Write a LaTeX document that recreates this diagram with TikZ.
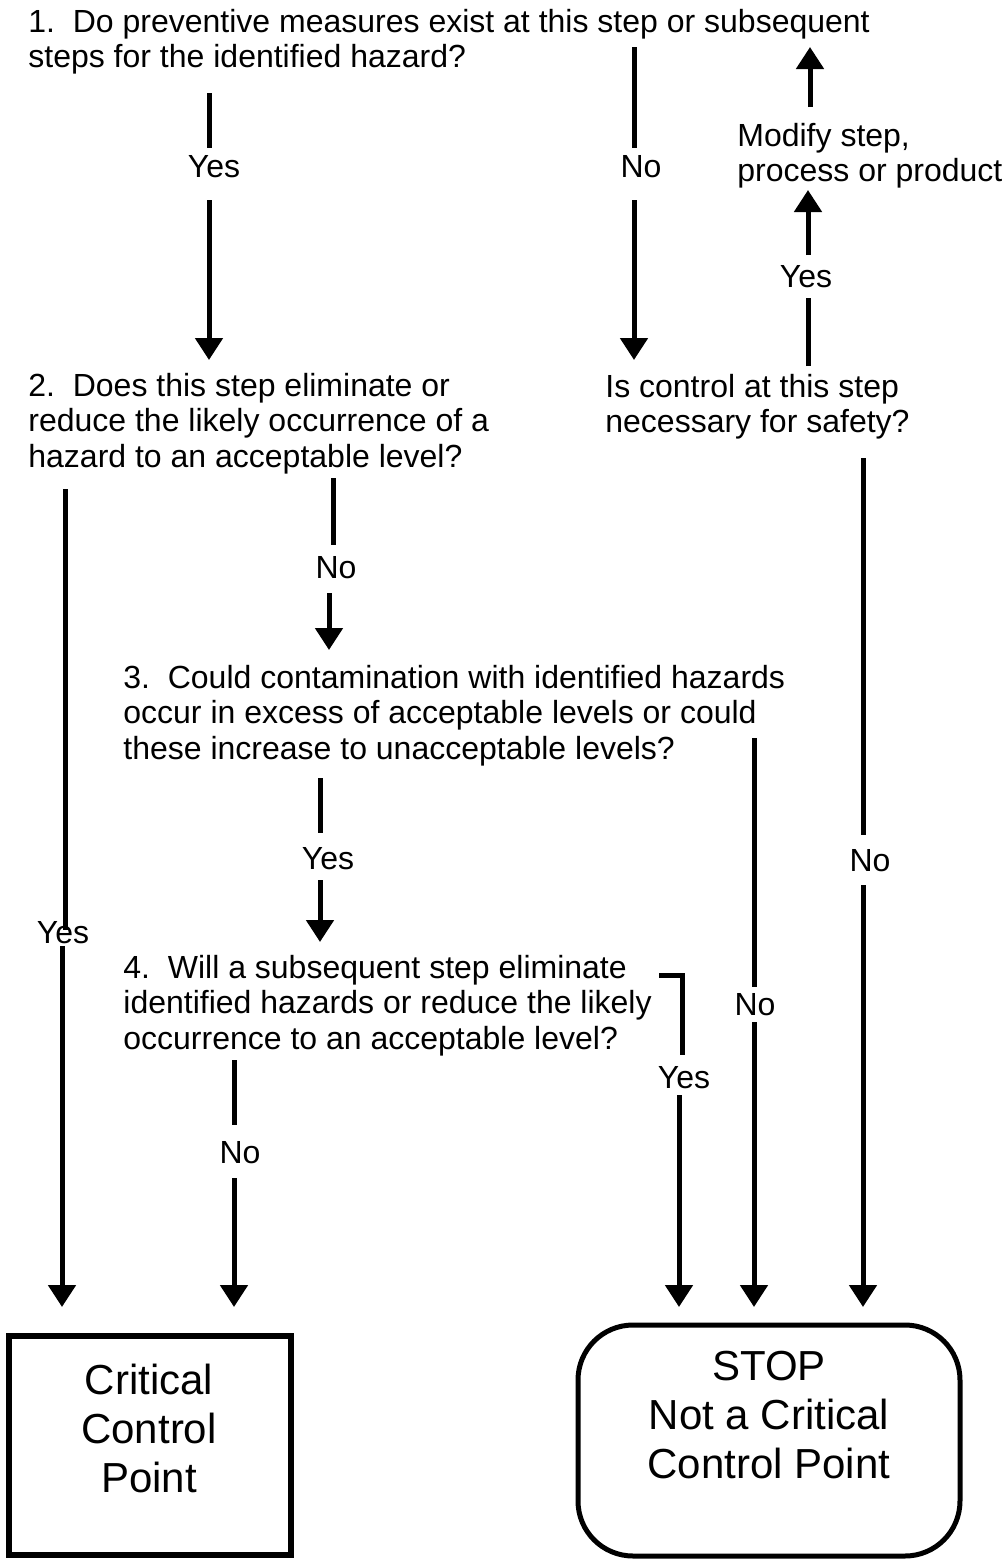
\documentclass[tikz,border=0pt]{standalone}
\usepackage{fontspec}
\setmainfont{Liberation Sans}
\usetikzlibrary{arrows.meta}
\newcommand\lftblock[1]{\vtop{\halign{##\hfil\cr #1\crcr}}}
\newcommand\ctrblock[1]{\vtop{\halign{\hfil##\hfil\cr #1\crcr}}}
\begin{document}
\begin{tikzpicture}[x=0.5pt,y=-0.5pt,
 txt/.style={inner sep=0pt, anchor=base west, font=\fontsize{16pt}{17.75pt}\selectfont},
 lbl/.style={inner sep=0pt, anchor=base, font=\fontsize{16pt}{17.75pt}\selectfont},
 big/.style={inner sep=0pt, anchor=base, font=\fontsize{21pt}{24.5pt}\selectfont},
 seg/.style={line width=2.5pt},
 arr/.style={line width=2.5pt, -{Triangle[width=13.5pt,length=11pt]}},
]
\useasboundingbox (0,0) rectangle (1005,1560);

% question texts
\node[txt] (q1) at (28,32) {\lftblock{1.\ \ Do preventive measures exist at this step or subsequent\cr steps for the identified hazard?}};
\node[txt] (q2) at (28,396) {\lftblock{2.\ \ Does this step eliminate or\cr reduce the likely occurrence of a\cr hazard to an acceptable level?}};
\node[txt] (qc) at (605,397) {\lftblock{Is control at this step\cr necessary for safety?}};
\node[txt] (qm) at (737,146) {\lftblock{Modify step,\cr process or product}};
\node[txt] (q3) at (123,688) {\lftblock{3.\ \ Could contamination with identified hazards\cr occur in excess of acceptable levels or could\cr these increase to unacceptable levels?}};
\node[txt] (q4) at (123,978) {\lftblock{4.\ \ Will a subsequent step eliminate\cr identified hazards or reduce the likely\cr occurrence to an acceptable level?}};

% end boxes
\draw[line width=3pt] (9,1336) rectangle (291,1555);
\node[big] (ccp) at (149,1394) {\ctrblock{Critical\cr Control\cr Point}};
\draw[line width=2.5pt, rounded corners=27.5pt] (578,1325) rectangle (960,1556);
\node[big] (stop) at (769,1380) {\ctrblock{STOP\cr Not a Critical\cr Control Point}};

% 1 -> 2 (Yes)
\coordinate (a1) at (209,93); \coordinate (a2) at (209,148);
\node[lbl] (l1) at (214,177) {Yes};
\coordinate (a3) at (209,200); \coordinate (a4) at (209,360);
\draw[seg] (a1) -- (a2); \draw[arr] (a3) -- (a4);

% 1 -> control (No)
\coordinate (b1) at (634,47); \coordinate (b2) at (634,148);
\node[lbl] (l2) at (641,177) {No};
\coordinate (b3) at (634,200); \coordinate (b4) at (634,360);
\draw[seg] (b1) -- (b2); \draw[arr] (b3) -- (b4);

% control -> modify (Yes) -> up
\coordinate (c1) at (808,366); \coordinate (c2) at (808,298);
\node[lbl] (l3) at (806,287) {Yes};
\coordinate (c3) at (808,255); \coordinate (c4) at (808,190);
\draw[seg] (c1) -- (c2); \draw[arr] (c3) -- (c4);
\coordinate (c5) at (810,107); \coordinate (c6) at (810,47);
\draw[arr] (c5) -- (c6);

% control -> stop (No)
\coordinate (d1) at (863,458); \coordinate (d2) at (863,835);
\node[lbl] (l4) at (870,871) {No};
\coordinate (d3) at (863,885); \coordinate (d4) at (863,1307);
\draw[seg] (d1) -- (d2); \draw[arr] (d3) -- (d4);

% 2 -> 3 (No)
\coordinate (e1) at (333,478); \coordinate (e2) at (333,545);
\node[lbl] (l5) at (336,578) {No};
\coordinate (e3) at (329,593); \coordinate (e4) at (329,650);
\draw[seg] (e1) -- (e2); \draw[arr] (e3) -- (e4);

% 2 -> CCP (Yes)
\coordinate (f1) at (65,489); \coordinate (f2) at (65,930);
\coordinate (f3) at (62,946); \coordinate (f4) at (62,1307);
\draw[seg] (f1) -- (f2); \draw[arr] (f3) -- (f4);
\node[lbl] (l6) at (63,943) {Yes};

% 3 -> 4 (Yes)
\coordinate (g1) at (320,778); \coordinate (g2) at (320,833);
\node[lbl] (l7) at (328,869) {Yes};
\coordinate (g3) at (320,880); \coordinate (g4) at (320,942);
\draw[seg] (g1) -- (g2); \draw[arr] (g3) -- (g4);

% 3 -> stop (No)
\coordinate (h1) at (754,738); \coordinate (h2) at (754,987);
\node[lbl] (l8) at (755,1015) {No};
\coordinate (h3) at (754,1022); \coordinate (h4) at (754,1307);
\draw[seg] (h1) -- (h2); \draw[arr] (h3) -- (h4);

% 4 -> CCP (No)
\coordinate (i1) at (234,1060); \coordinate (i2) at (234,1125);
\node[lbl] (l9) at (240,1163) {No};
\coordinate (i3) at (234,1178); \coordinate (i4) at (234,1307);
\draw[seg] (i1) -- (i2); \draw[arr] (i3) -- (i4);

% 4 -> stop (Yes)
\coordinate (j1) at (659,975.5); \coordinate (j2) at (682,975.5); \coordinate (j3) at (682,1055);
\draw[seg] (j1) -- (j2) -- (j3);
\node[lbl] (l10) at (684,1088) {Yes};
\coordinate (j4) at (679,1095); \coordinate (j5) at (679,1307);
\draw[arr] (j4) -- (j5);
\end{tikzpicture}
\end{document}
